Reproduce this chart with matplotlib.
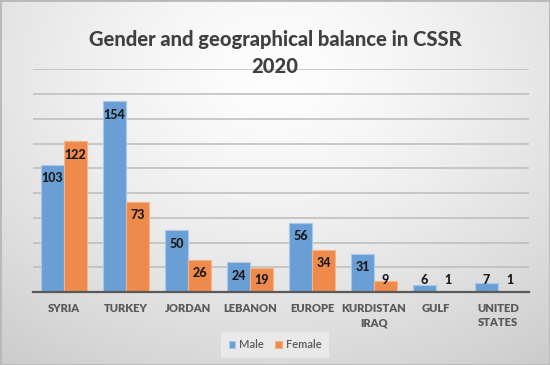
import numpy as np
import matplotlib
matplotlib.use("Agg")
import matplotlib.pyplot as plt
from matplotlib.patches import Rectangle

categories = ["SYRIA", "TURKEY", "JORDAN", "LEBANON", "EUROPE", "KURDISTAN\nIRAQ", "GULF", "UNITED\nSTATES"]
male = [103, 154, 50, 24, 56, 31, 6, 7]
female = [122, 73, 26, 19, 34, 9, 1, 1]
series_names = ["Male", "Female"]
title = "Gender and geographical balance in CSSR\n2020"

blue = "#6a9fd6"
orange = "#ee8b4c"
font = "Lato"

W, H = 550, 365
fig = plt.figure(figsize=(W / 100, H / 100), dpi=100)

# background gradient (radial, light centre-top)
bg = fig.add_axes([0, 0, 1, 1], zorder=-10)
yy, xx = np.mgrid[0:1:200j, 0:1:300j]
r = np.sqrt(((xx - 0.5) / 0.75) ** 2 + ((yy - 0.2) / 0.9) ** 2)
val = 0.995 - 0.17 * np.clip(r, 0, 1.2) ** 1.4
bg.imshow(np.dstack([val, val, val]), extent=[0, 1, 0, 1], origin="upper", aspect="auto")
bg.add_patch(Rectangle((0, 0), 1, 1, transform=bg.transAxes, fill=False, edgecolor="#b8b8b8", lw=2))
bg.set_axis_off()

ax = fig.add_axes([33 / W, 1 - 292 / H, (529 - 33) / W, (292 - 69.3) / H])
ax.patch.set_alpha(0)
x = np.arange(len(categories))
w = 0.36
off = 0.185
b1 = ax.bar(x - off, male, w, color=blue, edgecolor="#a9c8ea", lw=0.8, zorder=3, label=series_names[0])
b2 = ax.bar(x + off, female, w, color=orange, edgecolor="#f4b48a", lw=0.8, zorder=3, label=series_names[1])

ax.set_ylim(0, 180)
ax.set_xlim(-0.5, len(categories) - 0.5)
ax.set_yticks(np.arange(0, 181, 20))
ax.yaxis.grid(True, color="#bcbcbc", lw=1.1, zorder=0)
ax.tick_params(axis="y", length=0, labelleft=False)
ax.tick_params(axis="x", length=0, pad=8)
ax.set_xticks(x)
ax.set_xticklabels(categories, fontsize=8, color="#595959", fontweight=800, family=font, linespacing=1.35)
for s in ["top", "right", "left"]:
    ax.spines[s].set_visible(False)
ax.spines["bottom"].set_color("#595959")
ax.spines["bottom"].set_linewidth(1.6)
ax.spines["bottom"].set_zorder(4)

px_per_unit = ((292 - 69.3)) / 180.0
vmin = 25.5 / px_per_unit
for xs, vals in [(x - off, male), (x + off, female)]:
    for xi, v in zip(xs, vals):
        ax.annotate(str(v), xy=(xi, max(v, vmin)), xytext=(0, -13.5), textcoords="offset pixels",
                    ha="center", va="center", fontsize=9, fontweight=900, color="#1a1a1a",
                    family=font, zorder=5)

fig.text(0.5, 1 - 53 / H, title, ha="center", va="center", fontsize=14.5, fontweight=900,
         color="#404040", family=font, linespacing=1.45)

leg = fig.legend(handles=[b1, b2], labels=series_names, loc="center", bbox_to_anchor=(275 / W, 1 - 345 / H),
                 ncol=2, frameon=True, handlelength=0.6, handleheight=0.6, handletextpad=0.35,
                 columnspacing=1.0, borderpad=0.45, prop={"family": font, "size": 8, "weight": 600})
leg.get_frame().set_facecolor("#e9e9e9")
leg.get_frame().set_edgecolor("none")
leg.get_frame().set_alpha(1)
leg.get_frame().set_boxstyle("square", pad=0.2)
for t in leg.get_texts():
    t.set_color("#595959")

fig.savefig("out.png", dpi=100)
